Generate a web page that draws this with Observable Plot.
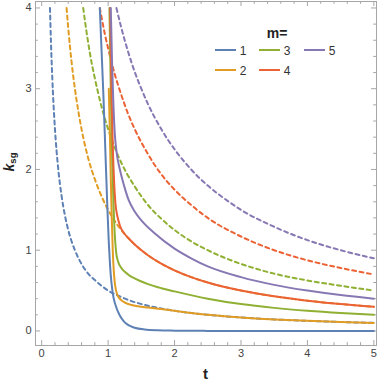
<!DOCTYPE html>
<html><head><meta charset="utf-8">
<script src="https://cdn.jsdelivr.net/npm/d3@7"></script>
<script src="https://cdn.jsdelivr.net/npm/@observablehq/plot@0.6"></script>
<style>body{margin:0;background:#fff} #chart{width:382px;height:382px}</style>
</head><body><div id="chart"></div>
<script>
const seriesM = [1, 2, 3, 4, 5];
const colors = ["#5E81B5", "#E19C24", "#8FB032", "#EB6235", "#8778B3"];
const xTicks = [0, 1, 2, 3, 4, 5];
const yTicks = [0, 1, 2, 3, 4];

// dashed curves
const dashT1 = [0.125, 0.14, 0.16, 0.18, 0.2, 0.25, 0.3, 0.35, 0.4, 0.5, 0.6, 0.7, 0.8, 0.9, 1.0, 1.2, 1.35, 1.45, 1.6, 1.8, 2.0, 2.5, 3, 3.5, 4, 4.5, 5];
const dashK1 = [4, 3.57, 3.13, 2.78, 2.5, 2.0, 1.67, 1.43, 1.25, 1.0, 0.83, 0.71, 0.63, 0.56, 0.5, 0.42, 0.37, 0.345, 0.3125, 0.278, 0.25, 0.2, 0.167, 0.143, 0.125, 0.111, 0.1];
const dashT2 = [0.375, 0.4, 0.45, 0.5, 0.55, 0.6, 0.7, 0.8, 0.9, 1.0, 1.1, 1.18, 1.24, 1.3, 1.4, 1.6, 1.8, 2.0, 2.25, 2.5, 3, 3.5, 4, 4.5, 5];
const dashK2 = [4, 3.75, 3.33, 3.0, 2.73, 2.5, 2.14, 1.88, 1.67, 1.5, 1.36, 1.27, 1.21, 1.154, 1.071, 0.9375, 0.833, 0.75, 0.667, 0.6, 0.5, 0.4286, 0.375, 0.333, 0.3];
const dashT3 = [0.625, 0.65, 0.7, 0.75, 0.8, 0.9, 1.0, 1.1, 1.2, 1.4, 1.6, 1.8, 2.0, 2.25, 2.5, 3, 3.5, 4, 4.5, 5];
const dashK3 = [4, 3.85, 3.57, 3.33, 3.13, 2.78, 2.5, 2.27, 2.08, 1.79, 1.56, 1.39, 1.25, 1.11, 1.0, 0.83, 0.71, 0.625, 0.56, 0.5];
const dashT4 = [0.875, 0.9, 0.95, 1.0, 1.1, 1.2, 1.3, 1.4, 1.6, 1.8, 2.0, 2.25, 2.5, 3, 3.5, 4, 4.5, 5];
const dashK4 = [4, 3.89, 3.68, 3.5, 3.18, 2.92, 2.69, 2.5, 2.19, 1.94, 1.75, 1.56, 1.4, 1.17, 1.0, 0.875, 0.78, 0.7];
const dashT5 = [1.125, 1.2, 1.3, 1.4, 1.5, 1.6, 1.8, 2.0, 2.25, 2.5, 2.75, 3, 3.5, 4, 4.5, 5];
const dashK5 = [4, 3.75, 3.46, 3.21, 3.0, 2.81, 2.5, 2.25, 2.0, 1.8, 1.64, 1.5, 1.29, 1.125, 1.0, 0.9];

// solid curves
const solidT1 = [0.875, 0.9, 0.93, 0.96, 0.99, 1.01, 1.03, 1.05, 1.08, 1.12, 1.17, 1.23, 1.3, 1.4, 1.55, 1.75, 2.0, 2.5, 3, 4, 5];
const solidK1 = [4, 3.5, 2.9, 2.2, 1.5, 1.1, 0.8, 0.6, 0.42, 0.3, 0.2, 0.125, 0.075, 0.04, 0.018, 0.008, 0.004, 0.001, 0, 0, 0];
const solidT2 = [1.01, 1.025, 1.04, 1.055, 1.07, 1.085, 1.1, 1.12, 1.15, 1.2, 1.27, 1.35, 1.45, 1.6, 1.8, 2.0, 2.5, 3, 3.5, 4, 4.5, 5];
const solidK2 = [3.0, 2.5, 1.9, 1.4, 1.0, 0.75, 0.6, 0.5, 0.43, 0.38, 0.345, 0.322, 0.305, 0.29, 0.272, 0.25, 0.2, 0.167, 0.143, 0.125, 0.111, 0.1];
const solidT3 = [1.02, 1.04, 1.06, 1.08, 1.1, 1.12, 1.15, 1.2, 1.3, 1.4, 1.6, 1.8, 2.0, 2.5, 3, 3.5, 4, 4.5, 5];
const solidK3 = [4, 3.0, 2.2, 1.6, 1.2, 0.98, 0.86, 0.78, 0.7, 0.65, 0.58, 0.53, 0.49, 0.4, 0.333, 0.286, 0.25, 0.222, 0.2];
const solidT4 = [1.03, 1.05, 1.07, 1.09, 1.11, 1.14, 1.18, 1.24, 1.3, 1.4, 1.6, 1.8, 2.0, 2.25, 2.5, 3, 3.5, 4, 4.5, 5];
const solidK4 = [4, 3.0, 2.3, 1.85, 1.58, 1.42, 1.3, 1.21, 1.154, 1.071, 0.9375, 0.833, 0.75, 0.667, 0.6, 0.5, 0.4286, 0.375, 0.333, 0.3];
const solidT5 = [1.04, 1.06, 1.08, 1.1, 1.13, 1.18, 1.24, 1.31, 1.4, 1.5, 1.7, 2.0, 2.25, 2.5, 3, 3.5, 4, 4.5, 5];
const solidK5 = [4, 3.3, 2.8, 2.45, 2.2, 1.99, 1.8, 1.62, 1.48, 1.37, 1.21, 1.02, 0.9, 0.8, 0.667, 0.571, 0.5, 0.444, 0.4];

const dashT = [dashT1, dashT2, dashT3, dashT4, dashT5];
const dashK = [dashK1, dashK2, dashK3, dashK4, dashK5];
const solidT = [solidT1, solidT2, solidT3, solidT4, solidT5];
const solidK = [solidK1, solidK2, solidK3, solidK4, solidK5];

const dashedRows = seriesM.flatMap((m, i) => dashT[i].map((t, j) => ({m, t, k: dashK[i][j]})));
const solidRows = seriesM.flatMap((m, i) => solidT[i].map((t, j) => ({m, t, k: solidK[i][j]})));

const W = 382, H = 382, mt = 1, mb = 37, ml = 35, mr = 6;
const fh = H - mt - mb, fw = W - ml - mr;
const xMinor = d3.range(0, 5.001, 0.2).filter(v => Math.abs(v - Math.round(v)) > 1e-6);
const yMinor = d3.range(0, 4.001, 0.2).filter(v => Math.abs(v - Math.round(v)) > 1e-6);
const axisC = "#a6a6a6";
const major = 5, minor = 2.8;

const plot = Plot.plot({
  width: W, height: H,
  marginTop: mt, marginBottom: mb, marginLeft: ml, marginRight: mr,
  x: {domain: [-0.093, 5.04]},
  y: {domain: [-0.18, 4.08]},
  color: {domain: seriesM, range: colors},
  style: {fontFamily: "'Liberation Sans', Arial, sans-serif", fontSize: "11px", background: "white"},
  marks: [
    Plot.frame({stroke: axisC}),
    Plot.ruleX(xTicks, {x: d => d, insetTop: fh - major, stroke: axisC}),
    Plot.ruleX(xMinor, {x: d => d, insetTop: fh - minor, stroke: axisC}),
    Plot.ruleX(xTicks, {x: d => d, insetBottom: fh - major, stroke: axisC}),
    Plot.ruleX(xMinor, {x: d => d, insetBottom: fh - minor, stroke: axisC}),
    Plot.ruleY(yTicks, {y: d => d, insetRight: fw - major, stroke: axisC}),
    Plot.ruleY(yMinor, {y: d => d, insetRight: fw - minor, stroke: axisC}),
    Plot.ruleY(yTicks, {y: d => d, insetLeft: fw - major, stroke: axisC}),
    Plot.ruleY(yMinor, {y: d => d, insetLeft: fw - minor, stroke: axisC}),
    Plot.axisX(xTicks, {tickSize: 0, tickPadding: 4, label: null, fill: "#444", tickFormat: d => String(d)}),
    Plot.axisY(yTicks, {tickSize: 0, tickPadding: 4, label: null, fill: "#444", tickFormat: d => String(d)}),
    Plot.line(dashedRows, {x: "t", y: "k", z: "m", stroke: "m", strokeWidth: 2, strokeDasharray: "4,3.5", curve: "monotone-x", clip: true}),
    Plot.line(solidRows, {x: "t", y: "k", z: "m", stroke: "m", strokeWidth: 2, curve: "monotone-x", clip: true})
  ]
});
document.getElementById("chart").appendChild(plot);

const svg = d3.select(plot);
// axis titles
svg.append("text").attr("x", 205.5).attr("y", 379).attr("text-anchor", "middle")
  .attr("font-family", "'Liberation Sans', Arial, sans-serif").attr("font-weight", "bold").attr("font-size", 15).attr("fill", "#222").text("t");
const yl = svg.append("text").attr("transform", "translate(14,162) rotate(-90)").attr("text-anchor", "middle")
  .attr("font-family", "'Liberation Sans', Arial, sans-serif").attr("font-weight", "bold").attr("fill", "#222");
yl.append("tspan").attr("font-size", 14).attr("font-style", "italic").text("k");
yl.append("tspan").attr("font-size", 9.5).attr("dy", 2).text("sg");

// legend
const lg = svg.append("g").attr("font-family", "'Liberation Sans', Arial, sans-serif");
lg.append("text").attr("x", 277).attr("y", 38).attr("text-anchor", "middle").attr("font-weight", "bold").attr("font-size", 14).attr("fill", "#222").text("m=");
const legPos = [[215, 50], [215, 70], [259, 50], [259, 70], [304, 50]];
seriesM.forEach((m, i) => {
  const [x0, y0] = legPos[i];
  lg.append("line").attr("x1", x0).attr("x2", x0 + 21).attr("y1", y0).attr("y2", y0).attr("stroke", colors[i]).attr("stroke-width", 2);
  lg.append("text").attr("x", x0 + 28).attr("y", y0 + 4.5).attr("font-size", 12).attr("fill", "#333").text(String(m));
});
</script>
</body></html>
